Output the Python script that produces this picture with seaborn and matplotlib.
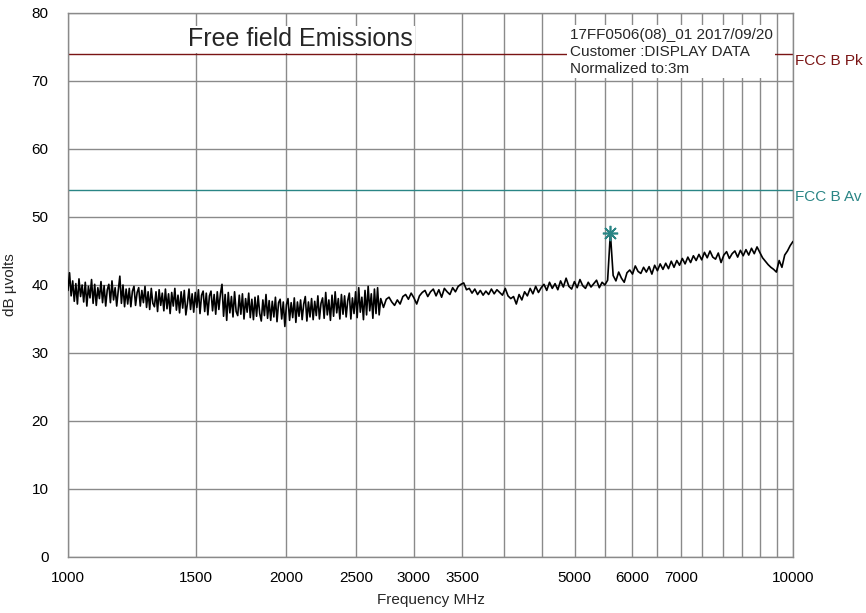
import numpy as np
import pandas as pd
import matplotlib
matplotlib.use("Agg")
import matplotlib.pyplot as plt
import seaborn as sns

# dense part of the sweep, 1000 - 2700 MHz
seg_a_start, seg_a_stop = 1000, 2700
seg_a_levels = [
    39.2, 41.8, 38.4, 40.6, 37.6, 40.2, 37.2, 40.9, 38.3, 40.0,
    37.5, 40.4, 36.9, 39.8, 38.1, 40.8, 37.3, 40.1, 37.0, 39.6,
    38.0, 40.5, 37.4, 39.9, 36.9, 39.3, 40.1, 37.4, 40.6, 37.8,
    39.6, 36.9, 39.2, 41.3, 37.3, 40.0, 36.8, 39.4, 37.2, 39.5,
    36.8, 39.1, 39.8, 37.0, 38.9, 39.6, 36.9, 39.2, 37.4, 39.8,
    36.7, 39.0, 36.4, 39.5, 37.3, 36.8, 39.0, 36.1, 39.3, 37.0,
    38.8, 36.2, 39.4, 36.5, 38.7, 35.8, 38.9, 36.9, 39.5, 36.3,
    38.5, 35.9, 39.0, 36.6, 39.2, 35.6, 37.3, 39.4, 36.4, 38.7,
    36.0, 38.9, 36.7, 39.3, 35.8, 38.5, 39.1, 36.1, 38.8, 35.6,
    38.4, 39.1, 36.2, 38.6, 35.7, 39.0, 36.4, 38.7, 40.1, 35.4,
    38.6, 34.8, 38.9, 35.9, 38.3, 35.3, 39.0, 36.1, 35.5, 38.5,
    35.7, 38.7, 35.0, 38.0, 36.0, 38.8, 35.2, 37.9, 34.9, 38.2,
    35.4, 38.4, 35.8, 34.7, 37.8, 35.5, 38.6, 35.1, 37.7, 34.8,
    37.6, 35.3, 38.2, 34.6, 37.4, 37.9, 35.0, 37.5, 33.9, 37.1,
    38.0, 34.8, 37.4, 35.2, 38.1, 34.5, 37.5, 35.4, 37.8, 34.9,
    37.2, 38.3, 34.7, 37.5, 35.3, 38.0, 34.9, 37.6, 35.5, 38.4,
    35.0, 37.3, 38.1, 35.1, 38.9, 35.6, 37.8, 34.8, 38.5, 35.4,
    39.0, 35.9, 38.0, 35.0, 38.6, 35.7, 38.4, 35.3, 37.7, 38.8,
    35.0, 38.1, 35.8, 39.0, 35.2, 39.6, 36.0, 38.2, 34.9, 39.2,
    35.6, 39.8, 36.2, 38.7, 35.1, 39.4, 35.8, 39.6, 35.6, 38.0,
]

# smoother part of the sweep, 2700 - 10000 MHz
seg_b_start, seg_b_stop = 2700, 10000
seg_b_levels = [
    37.4, 36.7, 37.9, 38.2, 37.5, 37.0, 37.8, 37.2, 38.3, 38.6,
    37.9, 38.8, 38.1, 37.2, 38.4, 38.9, 39.2, 38.3, 39.0, 39.4,
    38.4, 39.3, 38.2, 39.5, 39.0, 38.6, 39.6, 39.0, 39.8, 40.1,
    40.3, 39.3, 39.5, 38.8, 39.4, 38.6, 39.2, 38.5, 39.1, 38.6,
    39.4, 38.7, 39.3, 38.9, 38.5, 39.5, 38.4, 38.0, 38.3, 37.2,
    38.6, 37.8, 39.0, 38.4, 39.5, 38.7, 39.8, 38.9, 39.6, 40.1,
    39.2, 40.4, 39.5, 40.2, 39.3, 40.6, 39.7, 41.0, 39.8, 39.4,
    40.5, 39.6, 40.8, 39.9, 39.5, 40.4, 39.7, 40.2, 40.7, 39.6,
    40.4, 40.0, 40.7, 47.6, 41.4, 40.6, 41.9, 41.0, 40.4, 41.8,
    42.2, 41.6, 42.8, 42.0, 41.7, 42.6, 41.9, 42.7, 41.6, 42.9,
    42.1, 43.1, 42.3, 43.2, 42.4, 43.5, 42.6, 43.6, 42.9, 43.9,
    43.1, 44.1, 43.3, 44.3, 43.6, 44.5, 43.7, 44.8, 44.0, 45.0,
    44.1, 43.8, 44.7, 43.3, 44.4, 44.9, 43.9, 44.6, 45.0, 44.1,
    45.1, 44.3, 45.2, 44.4, 45.4, 44.6, 45.6, 44.8, 44.0, 43.5,
    43.0, 42.6, 42.3, 41.9, 43.6, 42.6, 44.4, 45.0, 45.8, 46.4,
]

limit_names = ["FCC B Pk", "FCC B Av"]
limit_levels = [74, 54]
limit_colors = ["#7a1414", "#2a8585"]

grid_freqs = list(range(1000, 10001, 500))
labelled_freqs = [1000, 1500, 2000, 2500, 3000, 3500, 5000, 6000, 7000, 10000]
info_lines = ["17FF0506(08)_01 2017/09/20", "Customer :DISPLAY DATA", "Normalized to:3m"]

# sweep points are spaced evenly on the log axis inside each segment
freq = np.concatenate([
    np.geomspace(seg_a_start, seg_a_stop, len(seg_a_levels)),
    np.geomspace(seg_b_start, seg_b_stop, len(seg_b_levels))[1:],
])
level = np.array(seg_a_levels + seg_b_levels[1:])
trace = pd.DataFrame({"freq": freq, "level": level})
peak = trace.loc[trace["level"].idxmax()]

sns.set_style("white")
plt.rcParams["font.family"] = ["Liberation Sans", "DejaVu Sans"]

fig = plt.figure(figsize=(8.66, 6.13), dpi=100)
ax = fig.add_axes([0.0785, 0.0914, 0.8372, 0.8874])

ax.set_xscale("log")
ax.set_xlim(1000, 10000)
ax.set_ylim(0, 80)

ax.set_xticks(grid_freqs)
ax.set_xticklabels([str(f) if f in labelled_freqs else "" for f in grid_freqs])
ax.xaxis.set_minor_locator(matplotlib.ticker.NullLocator())
ax.set_yticks(range(0, 81, 10))
ax.tick_params(length=0, labelsize=11, colors="black")
ax.tick_params(axis="x", pad=10)
ax.tick_params(axis="y", pad=14)
ax.grid(True, color="#8a8a8a", linewidth=1)

for spine in ax.spines.values():
    spine.set_color("#8a8a8a")
    spine.set_linewidth(1)

for name, lvl, col in zip(limit_names, limit_levels, limit_colors):
    ax.axhline(lvl, color=col, linewidth=1, zorder=2)
    ax.text(1.003, lvl - 1.1, name, transform=ax.get_yaxis_transform(),
            color=col, fontsize=11, va="center", ha="left")

sns.lineplot(data=trace, x="freq", y="level", ax=ax, color="black",
             linewidth=1.2, sort=False, estimator=None, zorder=3)
ax.plot(peak["freq"], peak["level"], marker=(8, 2, 0), color="#2a8585",
        markersize=11, markeredgewidth=1.2, zorder=4)

ax.text(0.321, 0.952, "Free field Emissions", transform=ax.transAxes,
        fontsize=18, ha="center", va="center", zorder=5,
        bbox=dict(facecolor="white", edgecolor="none", pad=1))
ax.text(0.692, 0.973, "\n".join(info_lines), transform=ax.transAxes,
        fontsize=11, ha="left", va="top", linespacing=1.27, zorder=5,
        bbox=dict(facecolor="white", edgecolor="none", pad=2))

ax.set_xlabel("Frequency MHz", fontsize=11)
ax.set_ylabel("dB µvolts", fontsize=11)
ax.xaxis.set_label_coords(0.5, -0.066)
ax.yaxis.set_label_coords(-0.071, 0.5)

fig.savefig("out.png", dpi=100)
plt.close(fig)
